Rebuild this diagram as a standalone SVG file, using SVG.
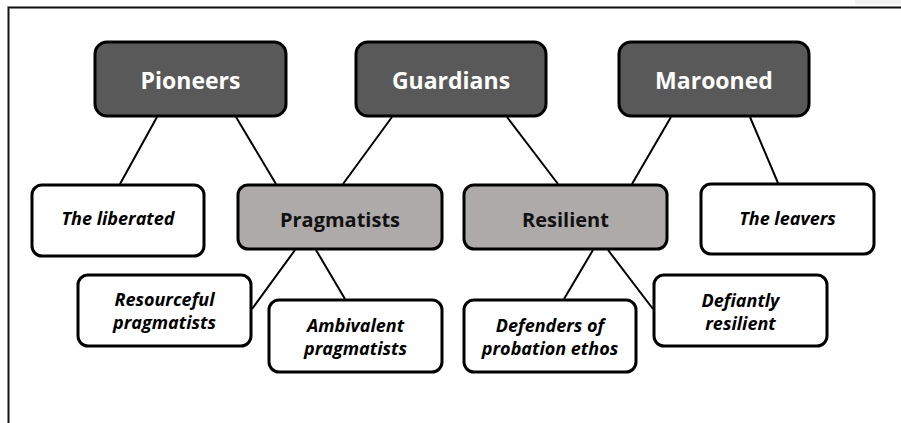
<svg xmlns="http://www.w3.org/2000/svg" width="901" height="423" viewBox="0 0 901 423">
<style>
.box{stroke:#000;stroke-width:3}
.top{fill:#595959}
.mid{fill:#aeaaaa}
.leaf{fill:#fff}
.t{font-family:"Open Sans","Noto Sans",sans-serif;font-weight:bold;text-anchor:middle}
.tw{fill:#fff;font-size:23px}
.tm{fill:#111;font-size:20px}
.ti{fill:#000;font-size:18px;font-style:italic}
.c line{stroke:#000;stroke-width:2}
</style>
<rect x="0" y="0" width="901" height="423" fill="#fff"/>
<rect x="855" y="0" width="46" height="4.5" fill="#f0f0f0"/>
<g id="frame" fill="none">
<path d="M8.5 423 V7.5 H901" stroke="#aaa" stroke-width="3"/>
<path d="M8.5 423 V7.5 H901" stroke="#111" stroke-width="1.4"/>
</g>
<g class="c" id="connectors">
<line x1="157" y1="117" x2="120" y2="184"/>
<line x1="236" y1="117" x2="276" y2="184"/>
<line x1="392" y1="117" x2="343" y2="184"/>
<line x1="507" y1="117" x2="558" y2="184"/>
<line x1="671" y1="117" x2="632" y2="184"/>
<line x1="750" y1="117" x2="778" y2="183"/>
<line x1="295" y1="250" x2="252" y2="309"/>
<line x1="316" y1="250" x2="345" y2="299"/>
<line x1="593" y1="250" x2="564" y2="299"/>
<line x1="608" y1="250" x2="653" y2="309"/>
</g>
<g id="pioneers"><rect class="box top" x="95" y="42" width="191" height="74" rx="12"/><text class="t tw" x="190.5" y="89">Pioneers</text></g>
<g id="guardians"><rect class="box top" x="356" y="42" width="190" height="74" rx="12"/><text class="t tw" x="451" y="89">Guardians</text></g>
<g id="marooned"><rect class="box top" x="619" y="42" width="190" height="74" rx="12"/><text class="t tw" x="714" y="89">Marooned</text></g>
<g id="pragmatists"><rect class="box mid" x="238" y="185" width="204" height="64" rx="10"/><text class="t tm" x="340" y="227">Pragmatists</text></g>
<g id="resilient"><rect class="box mid" x="464" y="185" width="203" height="64" rx="10"/><text class="t tm" x="565.5" y="227">Resilient</text></g>
<g id="liberated"><rect class="box leaf" x="32" y="185" width="172" height="71" rx="10"/><text class="t ti" x="118" y="225">The liberated</text></g>
<g id="leavers"><rect class="box leaf" x="701" y="184" width="173" height="70" rx="10"/><text class="t ti" x="787.5" y="225">The leavers</text></g>
<g id="resourceful"><rect class="box leaf" x="78" y="275" width="173" height="71" rx="10"/><text class="t ti" x="164.5" y="306">Resourceful</text><text class="t ti" x="164.5" y="329">pragmatists</text></g>
<g id="ambivalent"><rect class="box leaf" x="269" y="300" width="173" height="72" rx="10"/><text class="t ti" x="355.5" y="332">Ambivalent</text><text class="t ti" x="355.5" y="355">pragmatists</text></g>
<g id="defenders"><rect class="box leaf" x="464" y="300" width="172" height="72" rx="10"/><text class="t ti" x="550" y="332">Defenders of</text><text class="t ti" x="550" y="355">probation ethos</text></g>
<g id="defiantly"><rect class="box leaf" x="654" y="275" width="173" height="71" rx="10"/><text class="t ti" x="740.5" y="307">Defiantly</text><text class="t ti" x="740.5" y="330">resilient</text></g>
</svg>
